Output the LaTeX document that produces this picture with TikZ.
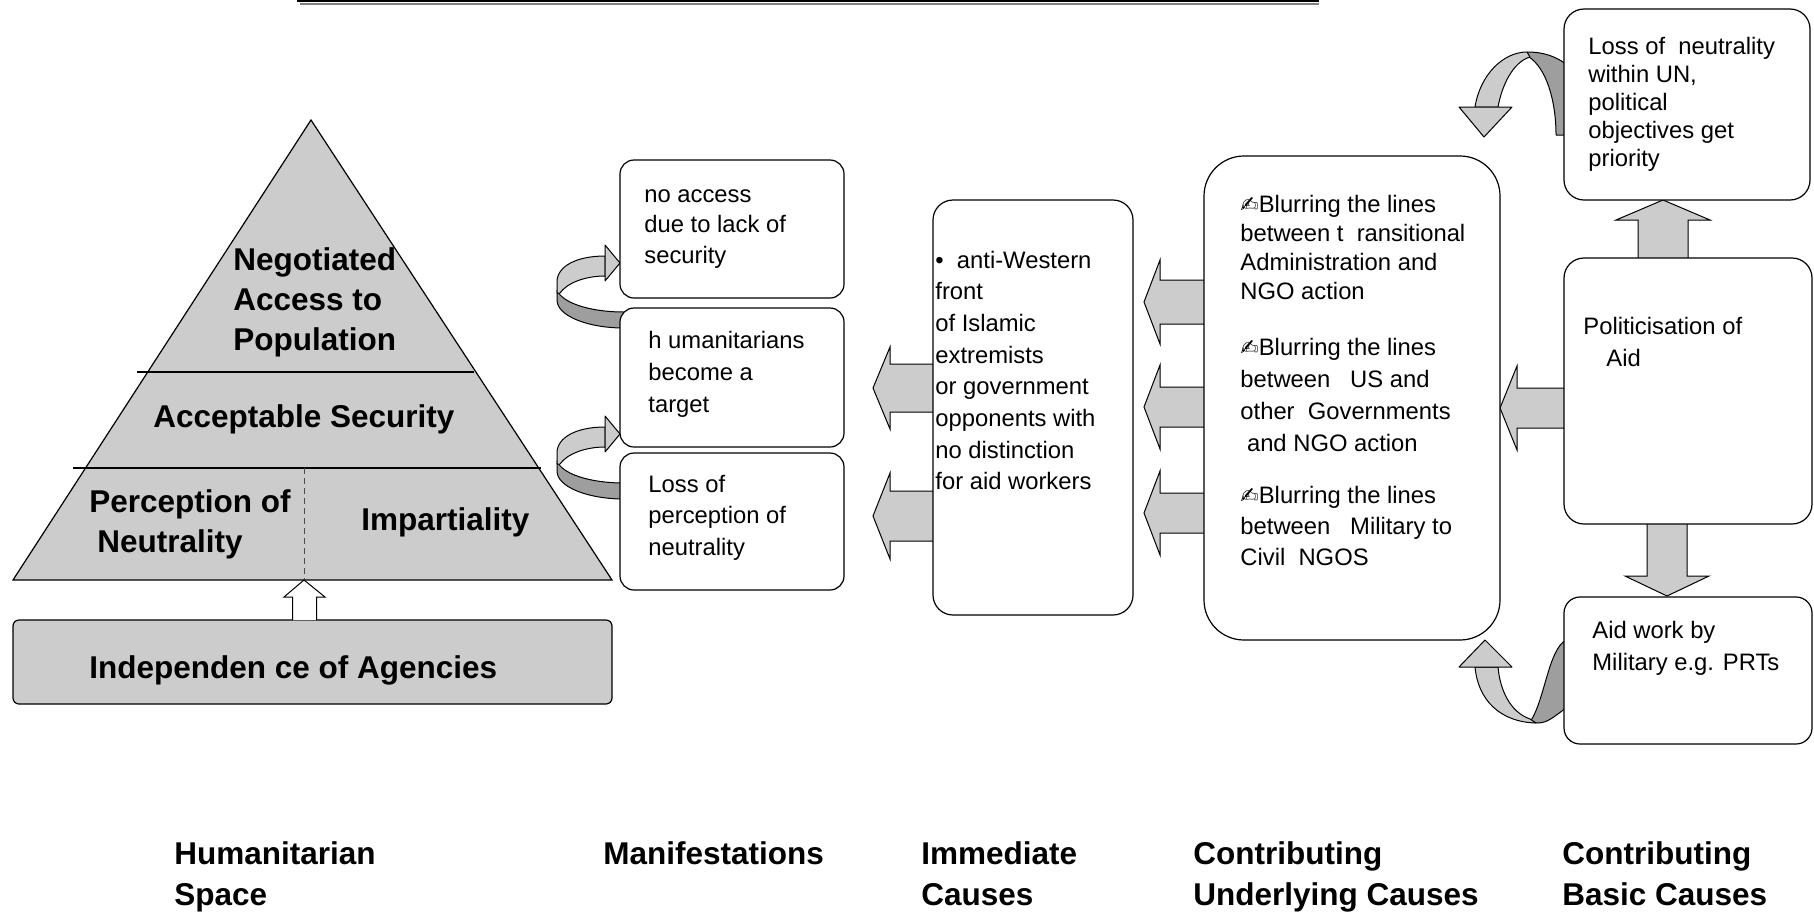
\documentclass[tikz,border=0pt]{standalone}
\usepackage{fontspec}
\setmainfont{Liberation Sans}
\newfontfamily\symfont{DejaVu Sans}
\usetikzlibrary{fit}
\definecolor{lightfill}{gray}{0.8}
\definecolor{darkfill}{gray}{0.62}
\newcommand\lns[1]{\begin{tabular}[t]{@{}l@{}}#1\end{tabular}}
\newcommand\pen{{\symfont\fontsize{11pt}{11pt}\selectfont ✍}}
\newcommand\larrow[6]{\draw[blockarrow] (#3,#4-#6) -- (#2,#4-#6) -- (#2,#4-#5) -- (#1,#4) -- (#2,#4+#5) -- (#2,#4+#6) -- (#3,#4+#6);}
\newcommand\varrow[6]{\draw[blockarrow] (#4-#6,#3) -- (#4-#6,#2) -- (#4-#5,#2) -- (#4,#1) -- (#4+#5,#2) -- (#4+#6,#2) -- (#4+#6,#3);}
\tikzset{
  rbox/.style={draw, line width=0.6pt, fill=white, rounded corners=#1, inner sep=0pt},
  rbox/.default=8pt,
  txt/.style={anchor=base west, inner sep=0pt, font=\fontsize{11.9pt}{#1}\selectfont},
  bld/.style={anchor=base west, inner sep=0pt, font=\fontsize{15.75pt}{#1}\selectfont\bfseries},
  blockarrow/.style={draw, fill=lightfill, line width=0.5pt, line join=miter},
  ribbonlight/.style={draw, fill=lightfill, line width=0.5pt, line join=round},
  ribbondark/.style={draw, fill=darkfill, line width=0.5pt, line join=round},
  outline/.style={draw, line width=0.6pt}
}
\begin{document}
\begin{tikzpicture}[x=0.5pt, y=-0.5pt]
\useasboundingbox (0,0) rectangle (1814,911);

% top bar (cut off)
\node[fit={(298,-20) (1318,1)}, draw, line width=0.6pt, inner sep=0pt] (topbar) {};
\draw[gray, line width=1pt] (300,3.5) -- (1319,3.5);

% pyramid
\draw[outline, fill=lightfill] (311,120) -- (13,580) -- (612,580) -- cycle;
\draw[line width=0.6pt] (137,372) -- (474,372);
\draw[line width=0.6pt] (73,468) -- (541,468);
\draw[black!70, line width=0.5pt, dash pattern=on 3pt off 2pt] (304,468) -- (304,580);

% independence box
\node[fit={(13,620) (612,704)}, draw, line width=0.6pt, fill=lightfill, rounded corners=3pt, inner sep=0pt] (indep) {};
\draw[line width=0.5pt, fill=white] (292.5,620) -- (292.5,597) -- (284,597) -- (304,580) -- (325,597) -- (316.5,597) -- (316.5,620);

% curved ribbon arrows between manifestations
\foreach \s in {0,171}{
\begin{scope}[shift={(0,\s)}]
  \path[ribbondark] (557,290) .. controls (562,303) and (590,312) .. (624,312) -- (624,328) .. controls (588,328) and (557,316) .. (557,300) -- cycle;
  \path[ribbonlight] (605,256) .. controls (577,256) and (557,266) .. (557,282) -- (557,293) -- (560,293) .. controls (567,283) and (585,276) .. (605,276) -- cycle;
  \path[ribbonlight] (605,245) -- (620,263) -- (605,281) -- cycle;
\end{scope}}

% top-right ribbon
\path[ribbondark] (1527,52) .. controls (1545,52) and (1556,57) .. (1566,64) -- (1566,135) -- (1556,135) .. controls (1556,100) and (1546,68) .. (1529,57) -- cycle;
\path[ribbonlight] (1527,52) .. controls (1503,52) and (1480,75) .. (1475,107) -- (1498,107) .. controls (1502,85) and (1513,62) .. (1530,57) -- cycle;
\path[ribbonlight] (1459,107) -- (1512,107) -- (1484,137) -- cycle;

% bottom-right ribbon
\path[ribbondark] (1530,722) .. controls (1545,700) and (1548,650) .. (1566,640) -- (1566,708) .. controls (1556,715) and (1548,723) .. (1538,723) -- cycle;
\path[ribbonlight] (1475,667) .. controls (1478,700) and (1500,722) .. (1536,723) -- (1530,719) .. controls (1510,712) and (1500,690) .. (1498,667) -- cycle;
\path[ribbonlight] (1459,667) -- (1485,640) -- (1512,667) -- cycle;

% block arrows
\larrow{873}{890}{938}{388}{41}{24}
\larrow{873}{890}{938}{516}{43}{25}
\larrow{1144}{1160}{1209}{302}{42}{22}
\larrow{1144}{1160}{1209}{407}{42}{20}
\larrow{1144}{1160}{1209}{513}{42}{20}
\larrow{1500}{1517}{1569}{408}{42}{20}
\varrow{200}{220}{263}{1663}{47}{25}
\varrow{596}{576}{519}{1667}{42}{20}

% boxes
\node[rbox=7pt, fit={(620,160) (844,298)}] (m1) {};
\node[rbox=7pt, fit={(620,308) (844,447)}] (m2) {};
\node[rbox=7pt, fit={(620,453) (844,590)}] (m3) {};
\node[rbox=10pt, fit={(933,200) (1133,615)}] (imm) {};
\node[rbox=20pt, fit={(1204,156) (1500,640)}] (und) {};
\node[rbox=10pt, fit={(1564,9) (1810,200)}] (loss) {};
\node[rbox=10pt, fit={(1564,258) (1812,524)}] (pol) {};
\node[rbox=8pt, fit={(1564,597) (1812,744)}] (aid) {};

% pyramid texts
\node[bld=20pt] (neg) at (233,270) {\lns{Negotiated\\Access to\\Population}};
\node[bld=20pt] (acc) at (153,427) {Acceptable Security};
\node[bld=20pt] (perc) at (89,512) {\lns{Perception of\\\hspace*{4pt}Neutrality}};
\node[bld=20pt] (imp) at (361,530) {Impartiality};
\node[bld=20pt] (ind) at (89,678) {Independen ce of Agencies};

% box texts
\node[txt=15.25pt] (m1t) at (644,202) {\lns{no access\\due to lack of\\security}};
\node[txt=16pt] (m2t) at (648,348) {\lns{h umanitarians\\become a\\target}};
\node[txt=15.75pt] (m3t) at (648,492) {\lns{Loss of\\perception of\\neutrality}};
\node[txt=15.85pt] (immt) at (935,268) {\lns{•\ \ anti-Western\\front\\of Islamic\\extremists\\or government\\opponents with\\no distinction\\for aid workers}};
\node[txt=14.5pt] (u1) at (1240,212) {\lns{\pen Blurring the lines\\between t\ \ ransitional\\Administration and\\NGO action}};
\node[txt=16pt] (u2) at (1240,355) {\lns{\pen Blurring the lines\\between\ \ \ US and\\other\ \ Governments\\\ and NGO action}};
\node[txt=15.5pt] (u3) at (1240,503) {\lns{\pen Blurring the lines\\between\ \ \ Military to\\Civil\ \ NGOS}};
\node[txt=14pt] (losst) at (1588,54) {\lns{Loss of\ \ neutrality\\within UN,\\political\\objectives get\\priority}};
\node[txt=16pt] (polt) at (1583,334) {\lns{Politicisation of\\\hspace*{11.5pt}Aid}};
\node[txt=16pt] (aidt) at (1592,638) {\lns{Aid work by\\Military e.g. PRTs}};

% captions
\node[bld=20.5pt] (c1) at (174,864) {\lns{Humanitarian\\Space}};
\node[bld=20.5pt] (c2) at (603,864) {Manifestations};
\node[bld=20.5pt] (c3) at (921,864) {\lns{Immediate\\Causes}};
\node[bld=20.5pt] (c4) at (1193,864) {\lns{Contributing\\Underlying Causes}};
\node[bld=20.5pt] (c5) at (1562,864) {\lns{Contributing\\Basic Causes}};
\end{tikzpicture}
\end{document}
